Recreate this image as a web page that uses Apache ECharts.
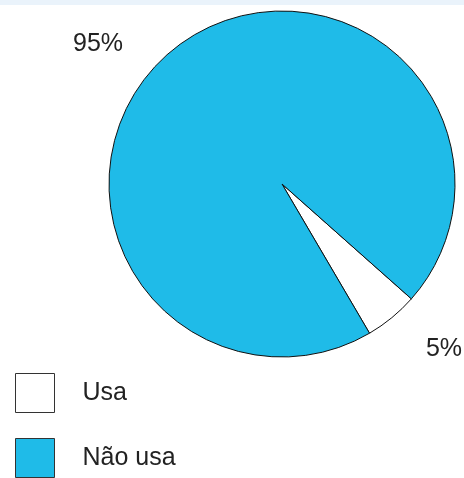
<!DOCTYPE html>
<html>
<head>
<meta charset="utf-8">
<script src="https://cdn.jsdelivr.net/npm/echarts@6/dist/echarts.min.js"></script>
<style>
html,body{margin:0;padding:0;background:#fff;}
#c{width:464px;height:478px;}
</style>
</head>
<body>
<div id="c"></div>
<script>
var categories = ['Usa', 'Não usa'];
var values = [5, 95];
var colors = ['#ffffff', '#1fbbe8'];

var chart = echarts.init(document.getElementById('c'), null, {renderer: 'canvas'});
var labelPos = [[444, 349], [98, 44]];
chart.setOption({
  animation: false,
  backgroundColor: '#ffffff',
  graphic: [{
    type: 'rect', shape: {x: 0, y: 0, width: 464, height: 5},
    style: {fill: '#eaf3fb'}, silent: true
  }],
  legend: {
    orient: 'vertical',
    left: 15,
    top: 373,
    padding: 0,
    itemWidth: 39,
    itemHeight: 39,
    itemGap: 25,
    icon: 'rect',
    selectedMode: false,
    data: categories,
    itemStyle: {borderColor: '#333', borderWidth: 1},
    textStyle: {fontFamily: 'Liberation Sans, Arial, sans-serif', fontSize: 25, color: '#222', padding: [0, 0, 0, 23]}
  },
  series: [{
    type: 'pie',
    center: [282, 184],
    radius: 173,
    startAngle: -41.6,
    clockwise: true,
    data: categories.map(function (n, i) {
      return {name: n, value: values[i], itemStyle: {color: colors[i]}};
    }),
    itemStyle: {borderColor: '#111', borderWidth: 1},
    label: {
      show: true,
      position: 'inside',
      formatter: '{d}%',
      fontFamily: 'Liberation Sans, Arial, sans-serif',
      fontSize: 25,
      color: '#222'
    },
    labelLine: {show: false},
    labelLayout: function (p) {
      var pos = labelPos[p.dataIndex];
      return {x: pos[0], y: pos[1], align: 'center', verticalAlign: 'middle'};
    },
    emphasis: {disabled: true}
  }]
});
</script>
</body>
</html>
